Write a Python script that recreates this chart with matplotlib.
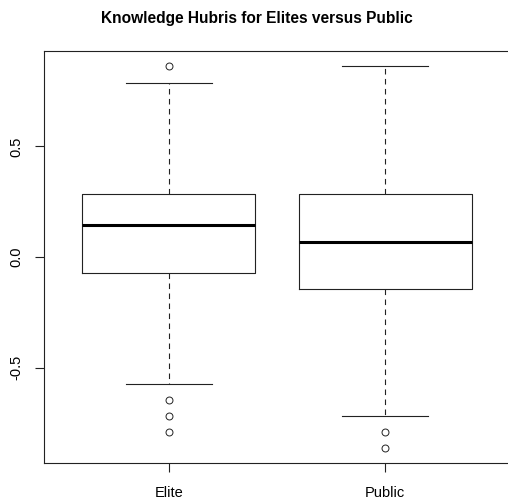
import matplotlib
matplotlib.use("Agg")
import matplotlib.pyplot as plt

plt.rcParams["font.family"] = ["Liberation Sans", "DejaVu Sans"]

groups = ["Elite", "Public"]
whisker_low = [-0.575, -0.719]
q1 = [-0.072, -0.145]
median = [0.145, 0.069]
q3 = [0.285, 0.285]
whisker_high = [0.788, 0.862]
outliers = [[0.862, -0.649, -0.720, -0.792], [-0.792, -0.864]]

yticks = [-0.5, 0.0, 0.5]
ytick_labels = ["-0.5", "0.0", "0.5"]

W, H = 508, 503
fig = plt.figure(figsize=(W / 100, H / 100), dpi=100)
# plot region runs a little past the right edge of the canvas
ax = fig.add_axes([43.5 / W, 39.7 / H, 467 / W, 412.3 / H])

stats = []
for i, g in enumerate(groups):
    stats.append(dict(label=g, whislo=whisker_low[i], q1=q1[i], med=median[i],
                      q3=q3[i], whishi=whisker_high[i], fliers=outliers[i]))

lw = 0.8
ax.bxp(stats, positions=[1, 2], widths=0.8, patch_artist=False,
       boxprops=dict(color="#222", lw=lw),
       medianprops=dict(color="black", lw=2.2, solid_capstyle="butt"),
       whiskerprops=dict(color="#222", lw=lw, linestyle=(0, (5, 4))),
       capprops=dict(color="#222", lw=lw),
       flierprops=dict(marker="o", markersize=5, markerfacecolor="none",
                       markeredgecolor="#222", markeredgewidth=0.7))

ax.set_xlim(0.42, 2.58)
ax.set_ylim(-0.933, 0.931)
ax.set_yticks(yticks)
ax.set_yticklabels(ytick_labels, rotation=90, va="center")
ax.set_xticks([1, 2])
ax.set_xticklabels(groups)
ax.tick_params(axis="both", direction="out", length=6.5, width=lw, color="#222",
               labelsize=10.5, labelcolor="black")
ax.tick_params(axis="y", pad=8)
ax.tick_params(axis="x", pad=10)
for side in ["left", "bottom", "top", "right"]:
    ax.spines[side].set_linewidth(lw)
    ax.spines[side].set_color("#222")

fig.text(257 / W, 1 - 18 / H, "Knowledge Hubris for Elites versus Public",
         ha="center", va="center", fontsize=11.2, fontweight="bold")

fig.savefig("out.png", dpi=100)
